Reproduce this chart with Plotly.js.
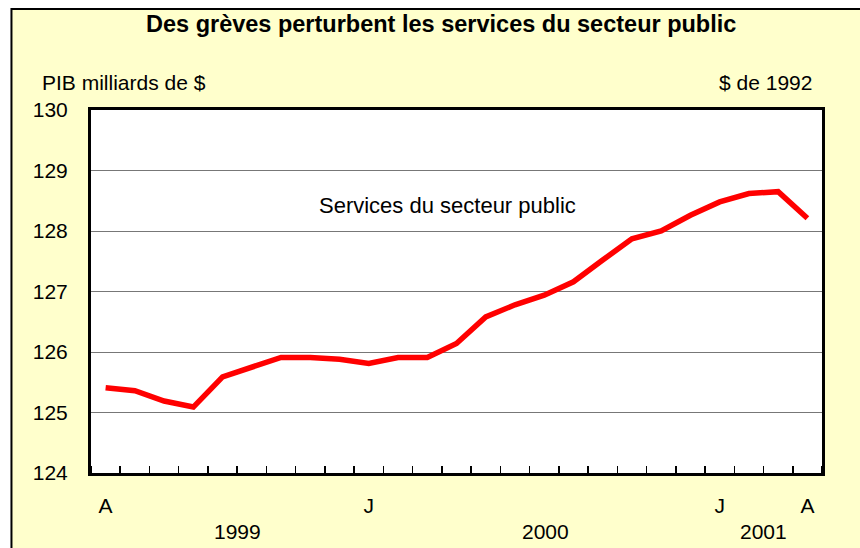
<!DOCTYPE html>
<html>
<head>
<meta charset="utf-8">
<script src="https://cdn.plot.ly/plotly-3.0.1.min.js"></script>
<style>html,body{margin:0;padding:0;background:#fff;}#chart{width:860px;height:548px;}</style>
</head>
<body>
<div id="chart"></div>
<script>
// Monthly categories, April 1999 to April 2001
const months = ['1999-04','1999-05','1999-06','1999-07','1999-08','1999-09','1999-10','1999-11','1999-12',
  '2000-01','2000-02','2000-03','2000-04','2000-05','2000-06','2000-07','2000-08','2000-09','2000-10','2000-11','2000-12',
  '2001-01','2001-02','2001-03','2001-04'];
// PIB, services du secteur public (milliards de $ de 1992)
const values = [125.41,125.36,125.19,125.09,125.59,125.74,125.91,125.91,125.88,125.81,125.91,125.91,126.14,
  126.58,126.78,126.94,127.16,127.52,127.87,128.00,128.26,128.48,128.62,128.65,128.21];
// Tick labels
const tickMonths = ['1999-04','2000-01','2001-01','2001-04'];
const tickText = ['A','J','J','A'];
const years = ['1999','2000','2001'];
const yearPos = [4.5, 15.06, 22.5];

const idx = months.map((m, i) => i);
const tickIdx = tickMonths.map(m => months.indexOf(m));

const FONT = 'Liberation Sans, Arial, sans-serif';
const FS = 21;

const trace = {
  x: idx, y: values, type: 'scatter', mode: 'lines',
  line: {color: '#ff0000', width: 5.5}, hoverinfo: 'skip'
};

const annotations = [
  {text: 'PIB milliards de $', xref: 'paper', yref: 'paper', x: -0.0698, y: 1.077, xanchor: 'left', yanchor: 'middle', showarrow: false, font: {family: FONT, size: FS, color: '#000'}},
  {text: '$ de 1992', xref: 'paper', yref: 'paper', x: 0.989, y: 1.077, xanchor: 'right', yanchor: 'middle', showarrow: false, font: {family: FONT, size: FS, color: '#000'}},
  {text: 'Services du secteur public', xref: 'paper', yref: 'paper', x: 0.488, y: 0.738, xanchor: 'center', yanchor: 'middle', showarrow: false, font: {family: FONT, size: 22, color: '#000'}}
];
years.forEach((yr, i) => annotations.push({
  text: yr, xref: 'x', yref: 'paper', x: yearPos[i], y: -0.1625, xanchor: 'center', yanchor: 'middle',
  showarrow: false, font: {family: FONT, size: FS, color: '#000'}
}));

const layout = {
  width: 860, height: 548,
  margin: {l: 91, r: 38, t: 110, b: 75, pad: 0},
  paper_bgcolor: '#ffffff', plot_bgcolor: 'rgba(0,0,0,0)',
  showlegend: false,
  title: {text: '<b>Des grèves perturbent les services du secteur public</b>', x: 0.513, xanchor: 'center', y: 0.956, yanchor: 'middle', font: {family: FONT, size: 23.5, color: '#000'}},
  xaxis: {
    range: [-0.5, months.length - 0.5], showgrid: false, zeroline: false,
    tickmode: 'array', tickvals: tickIdx, ticktext: tickText, ticks: '',
    tickfont: {family: FONT, size: FS, color: '#000'},
    showline: true, linecolor: '#000', linewidth: 3, mirror: true,
    minor: {tickmode: 'linear', tick0: 0.5, dtick: 1, ticks: 'inside', ticklen: 7, tickwidth: 1.5, tickcolor: '#000', showgrid: false},
    ticklabelstandoff: 12
  },
  yaxis: {
    range: [124, 130], dtick: 1, tick0: 124, showgrid: true, gridcolor: '#777', gridwidth: 1,
    zeroline: false, ticks: '', tickfont: {family: FONT, size: FS, color: '#000'},
    showline: true, linecolor: '#000', linewidth: 3, mirror: true, ticklabelstandoff: 16
  },
  shapes: [
    {type: 'rect', xref: 'paper', yref: 'paper', x0: -0.1088, x1: 1.3, y0: -0.4, y1: 1.278, fillcolor: '#ffffcc', line: {color: '#000', width: 2}, layer: 'below'},
    {type: 'rect', xref: 'paper', yref: 'paper', x0: 0, x1: 1, y0: 0, y1: 1, fillcolor: '#ffffff', line: {width: 0}, layer: 'below'}
  ],
  annotations: annotations
};

Plotly.newPlot('chart', [trace], layout, {displayModeBar: false, staticPlot: true});
</script>
</body>
</html>
